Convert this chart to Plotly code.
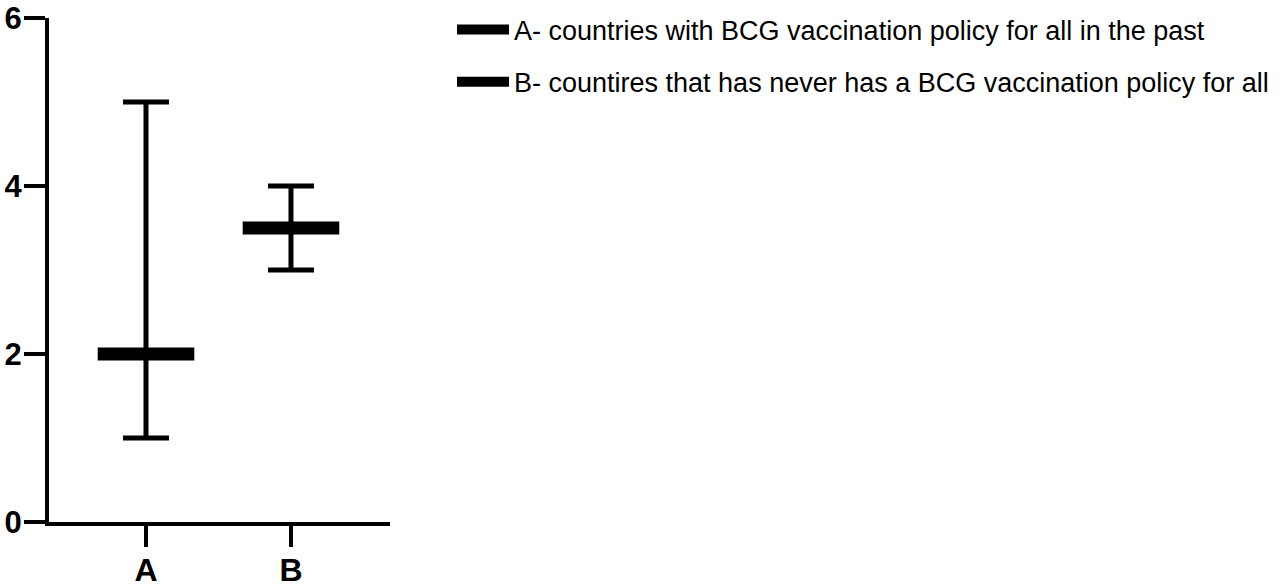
import plotly.graph_objects as go

categories = ["A", "B"]
medians = [2.0, 3.5]
lows = [1.0, 3.0]
highs = [5.0, 4.0]
legend_labels = [
    "A- countries with BCG vaccination policy for all in the past",
    "B- countires that has never has a BCG vaccination policy for all",
]
y_ticks = [0, 2, 4, 6]

FONT = "Liberation Sans, Arial, sans-serif"
W, H = 1280, 587

fig = go.Figure()

for i, cat in enumerate(categories):
    fig.add_trace(go.Scatter(
        x=[cat], y=[medians[i]],
        mode="markers",
        marker=dict(symbol="line-ew", size=69, color="black",
                    line=dict(color="black", width=13)),
        error_y=dict(type="data", symmetric=False,
                     array=[highs[i] - medians[i]],
                     arrayminus=[medians[i] - lows[i]],
                     color="black", thickness=5, width=23),
        showlegend=False, hoverinfo="skip",
    ))

for i, lab in enumerate(legend_labels):
    fig.add_trace(go.Scatter(
        x=[None], y=[None], mode="lines",
        line=dict(color="black", width=11),
        name=lab, legendgroup=f"g{i}",
    ))

fig.update_layout(
    width=W, height=H,
    margin=dict(l=0, r=0, t=0, b=0, pad=0),
    paper_bgcolor="white", plot_bgcolor="white",
    font=dict(family=FONT, color="black"),
    showlegend=True,
    legend=dict(x=452 / W, y=1 - 5.5 / H, xanchor="left", yanchor="top",
                font=dict(size=27, family=FONT),
                tracegroupgap=14, traceorder="grouped", itemwidth=52,
                bgcolor="rgba(0,0,0,0)"),
    xaxis=dict(type="category", categoryorder="array", categoryarray=categories,
               domain=[49 / W, 390 / W],
               range=[-0.669, 1.683], showgrid=False, zeroline=False,
               showline=True, linecolor="black", linewidth=4,
               ticks="outside", ticklen=21, tickwidth=4, tickcolor="black",
               tickfont=dict(size=32, family=FONT, weight="bold"),
               ticklabelstandoff=-4, ticklabeloverflow="allow",
               automargin=False, fixedrange=True),
    yaxis=dict(range=[0, 6], tickvals=y_ticks, showgrid=False, zeroline=False,
               domain=[65 / H, (H - 18) / H],
               showline=True, linecolor="black", linewidth=4,
               ticks="outside", ticklen=21, tickwidth=4, tickcolor="black",
               tickfont=dict(size=31, family=FONT, weight="bold"),
               ticklabelstandoff=-4, ticklabeloverflow="allow",
               automargin=False, fixedrange=True),
)

fig.write_html("out.html", config={"displayModeBar": False},
               post_script="document.body.style.margin='0px';")
